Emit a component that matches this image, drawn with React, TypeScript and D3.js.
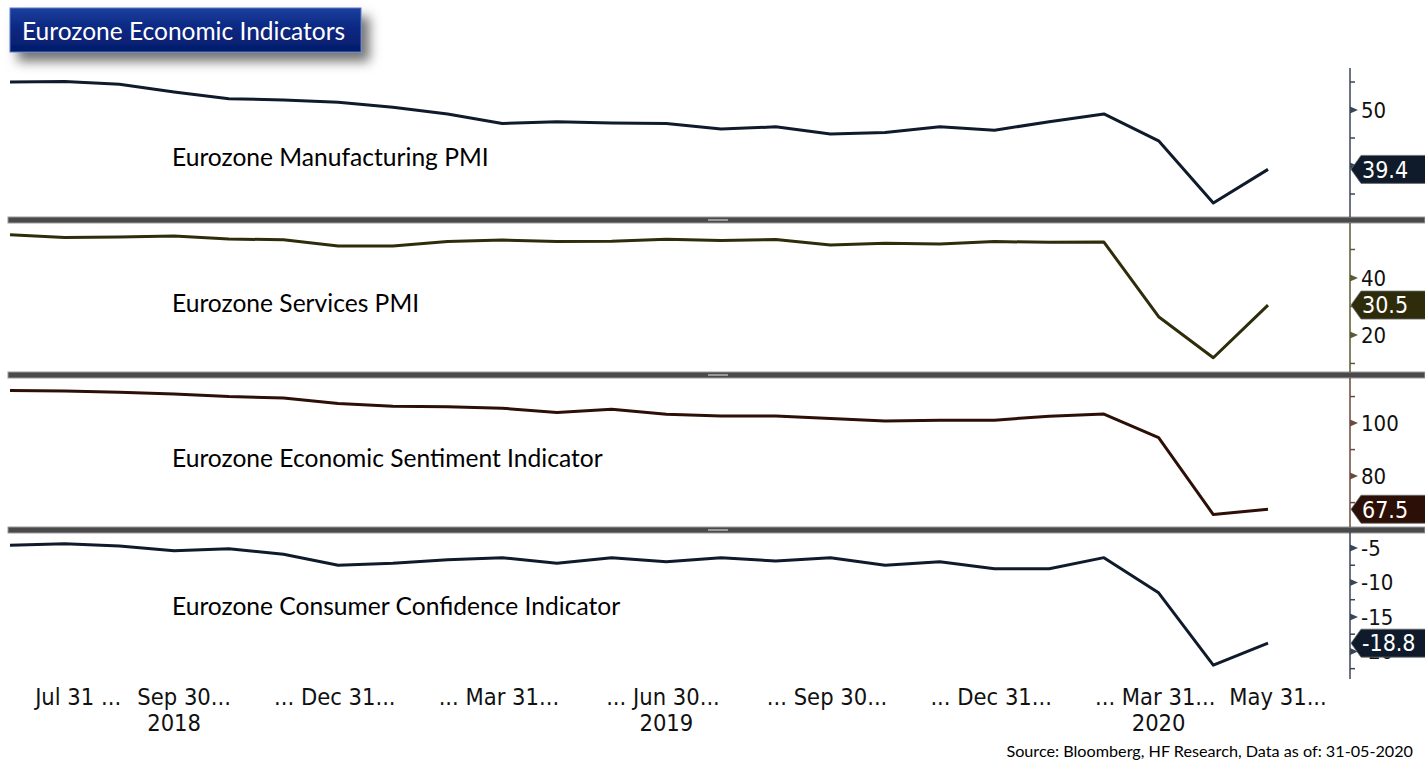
import React, { useEffect, useRef } from "react";
import * as d3 from "d3";

const months = [
  "2018-06", "2018-07", "2018-08", "2018-09", "2018-10", "2018-11", "2018-12",
  "2019-01", "2019-02", "2019-03", "2019-04", "2019-05", "2019-06", "2019-07",
  "2019-08", "2019-09", "2019-10", "2019-11", "2019-12", "2020-01", "2020-02",
  "2020-03", "2020-04", "2020-05",
];

const manufacturingPMI = [
  55.0, 55.1, 54.6, 53.2, 52.0, 51.8, 51.4, 50.5, 49.3, 47.6, 47.9, 47.7,
  47.6, 46.6, 47.0, 45.7, 46.0, 47.0, 46.4, 47.9, 49.3, 44.5, 33.4, 39.4,
];

const servicesPMI = [
  55.2, 54.2, 54.4, 54.7, 53.7, 53.4, 51.2, 51.2, 52.8, 53.3, 52.8, 52.9,
  53.6, 53.2, 53.5, 51.6, 52.2, 51.9, 52.8, 52.5, 52.6, 26.4, 12.0, 30.5,
];

const sentimentESI = [
  112.3, 112.1, 111.6, 111.0, 110.0, 109.5, 107.4, 106.3, 106.2, 105.6, 104.0, 105.2,
  103.3, 102.7, 102.7, 101.7, 100.8, 101.1, 101.1, 102.6, 103.4, 94.5, 65.5, 67.5,
];

const consumerConfidence = [
  -4.6, -4.4, -4.7, -5.4, -5.1, -5.9, -7.5, -7.2, -6.7, -6.4, -7.2, -6.4,
  -7.0, -6.4, -6.9, -6.4, -7.5, -7.0, -8.0, -8.0, -6.4, -11.5, -22.0, -18.8,
];

const panelNames = [
  "Eurozone Manufacturing PMI",
  "Eurozone Services PMI",
  "Eurozone Economic Sentiment Indicator",
  "Eurozone Consumer Confidence Indicator",
];

const lastValueLabels = ["39.4", "30.5", "67.5", "-18.8"];

const xTickLabels = [
  { month: "2018-07", pre: "", date: "Jul 31", post: " ..." },
  { month: "2018-09", pre: "", date: "Sep 30", post: "..." },
  { month: "2018-12", pre: "... ", date: "Dec 31", post: "..." },
  { month: "2019-03", pre: "... ", date: "Mar 31", post: "..." },
  { month: "2019-06", pre: "... ", date: "Jun 30", post: "..." },
  { month: "2019-09", pre: "... ", date: "Sep 30", post: "..." },
  { month: "2019-12", pre: "... ", date: "Dec 31", post: "..." },
  { month: "2020-03", pre: "... ", date: "Mar 31", post: "..." },
  { month: "2020-05", pre: " ", date: "May 31", post: "..." },
];

const yearLabels = [
  { month: "2018-09", year: "2018" },
  { month: "2019-06", year: "2019" },
  { month: "2020-03", year: "2020" },
];

const titleText = "Eurozone Economic Indicators";
const sourceText = "Source: Bloomberg, HF Research, Data as of: 31-05-2020";

const W = 1425;
const H = 775;
const AXIS_X = 1350;
const TICK_FONT = "'DejaVu Sans Condensed', 'DejaVu Sans', Tahoma, sans-serif";
const LABEL_FONT = "Lato, 'Open Sans', Calibri, sans-serif";

const panels = [
  { data: manufacturingPMI, top: 68, bottom: 217, domain: [30.9, 57.5], major: 10, minor: 5, color: "#0f1b2b", axisColor: "#3a4656", labelY: 157 },
  { data: servicesPMI, top: 223, bottom: 372, domain: [7.0, 59.3], major: 20, minor: 10, color: "#2e2c0b", axisColor: "#5c5a35", labelY: 303 },
  { data: sentimentESI, top: 378, bottom: 527, domain: [60.8, 117], major: 20, minor: 10, color: "#2c0f06", axisColor: "#6a4a40", labelY: 458 },
  { data: consumerConfidence, top: 532, bottom: 679, domain: [-24.0, -2.68], major: 5, minor: 2.5, color: "#0f1b2b", axisColor: "#3a4656", labelY: 606 },
];

export default function App() {
  const ref = useRef<SVGSVGElement | null>(null);

  useEffect(() => {
    const svg = d3.select(ref.current);
    svg.selectAll("*").remove();

    const defs = svg.append("defs");
    const grad = defs.append("linearGradient").attr("id", "titleGrad").attr("x1", 0).attr("y1", 0).attr("x2", 0).attr("y2", 1);
    grad.append("stop").attr("offset", "0%").attr("stop-color", "#1d3f9e");
    grad.append("stop").attr("offset", "45%").attr("stop-color", "#0a2882");
    grad.append("stop").attr("offset", "100%").attr("stop-color", "#051c6a");
    const filt = defs.append("filter").attr("id", "shadow").attr("x", "-10%").attr("y", "-30%").attr("width", "130%").attr("height", "190%");
    filt.append("feDropShadow").attr("dx", 8).attr("dy", 9).attr("stdDeviation", 6).attr("flood-color", "#000").attr("flood-opacity", 0.55);

    svg.append("rect").attr("width", W).attr("height", H).attr("fill", "#ffffff");

    const x = d3.scalePoint<string>().domain(months).range([10, 1268]).padding(0);

    // separators
    const seps = [217, 372, 527];
    seps.forEach((sy) => {
      svg.append("rect").attr("x", 8).attr("y", sy).attr("width", W - 8).attr("height", 6)
        .attr("fill", "#4a4a4a").attr("stroke", "#9a9a9a").attr("stroke-width", 1);
      svg.append("rect").attr("x", 708).attr("y", sy + 2).attr("width", 20).attr("height", 2).attr("fill", "#9a9a9a");
    });

    panels.forEach((p, pi) => {
      const y = d3.scaleLinear().domain(p.domain).range([p.bottom, p.top]);
      const g = svg.append("g");
      const last = p.data[p.data.length - 1];
      const ly = y(last);
      // axis line
      g.append("line").attr("x1", AXIS_X).attr("x2", AXIS_X).attr("y1", p.top).attr("y2", p.bottom)
        .attr("stroke", p.axisColor).attr("stroke-width", 1.5);
      const d0 = p.domain[0], d1 = p.domain[1];
      const majors: number[] = [];
      for (let v = Math.ceil(d0 / p.major) * p.major; v <= d1 + 1e-9; v += p.major) majors.push(Math.round(v * 100) / 100);
      const minors: number[] = [];
      for (let v = Math.ceil(d0 / p.minor) * p.minor; v <= d1 + 1e-9; v += p.minor) {
        const r = Math.round(v * 100) / 100;
        if (!majors.some((m) => Math.abs(m - r) < 1e-6)) minors.push(r);
      }
      minors.forEach((v) => {
        g.append("line").attr("x1", AXIS_X).attr("x2", AXIS_X + 5).attr("y1", y(v)).attr("y2", y(v))
          .attr("stroke", p.axisColor).attr("stroke-width", 1.5);
      });
      majors.forEach((v) => {
        const yy = y(v);
        g.append("path").attr("d", `M${AXIS_X},${yy - 3.5}L${AXIS_X + 8},${yy}L${AXIS_X},${yy + 3.5}Z`).attr("fill", p.axisColor);
        // labels fully hidden behind the last-value tag are not drawn
        if (Math.abs(yy - ly) < 6) return;
        g.append("text").attr("x", AXIS_X + 11).attr("y", yy).attr("dy", "0.36em")
          .attr("font-family", TICK_FONT).attr("font-size", 22).attr("fill", "#111").text(String(v));
      });

      // line
      const line = d3.line<number>().x((_, i) => x(months[i]) as number).y((d) => y(d));
      g.append("path").datum(p.data).attr("d", line).attr("fill", "none").attr("stroke", p.color)
        .attr("stroke-width", 3).attr("stroke-linejoin", "round");

      // panel name
      g.append("text").attr("x", 172).attr("y", p.labelY).attr("dy", "0.35em")
        .attr("font-family", LABEL_FONT).attr("font-size", 24.6).attr("fill", "#000").text(panelNames[pi]);

      // last value label
      g.append("path").attr("d", `M${AXIS_X + 1},${ly}L${AXIS_X + 11},${ly - 14}L${W + 2},${ly - 14}L${W + 2},${ly + 14}L${AXIS_X + 11},${ly + 14}Z`)
        .attr("fill", p.color).attr("stroke", "#6b6b6b").attr("stroke-width", 0.8);
      g.append("text").attr("x", AXIS_X + 12).attr("y", ly).attr("dy", "0.36em")
        .attr("font-family", TICK_FONT).attr("font-size", 23).attr("fill", "#ffffff").text(lastValueLabels[pi]);
    });

    // x axis labels
    const xl = svg.append("g").attr("font-family", TICK_FONT).attr("font-size", 23.5).attr("fill", "#111");
    xTickLabels.forEach((t) => {
      const cx = x(t.month) as number;
      const dt = xl.append("text").attr("x", cx).attr("y", 705).attr("text-anchor", "middle").text(t.date);
      const w = (dt.node() as SVGTextElement).getComputedTextLength();
      if (t.pre) xl.append("text").attr("x", cx - w / 2).attr("y", 705).attr("text-anchor", "end").style("white-space", "pre").text(t.pre);
      if (t.post) xl.append("text").attr("x", cx + w / 2).attr("y", 705).attr("text-anchor", "start").style("white-space", "pre").text(t.post);
    });
    yearLabels.forEach((t) => {
      xl.append("text").attr("x", x(t.month) as number).attr("y", 731).attr("text-anchor", "middle").text(t.year);
    });

    // source
    svg.append("text").attr("x", 1413).attr("y", 757).attr("text-anchor", "end")
      .attr("font-family", LABEL_FONT).attr("font-size", 16.2).attr("fill", "#000").text(sourceText);

    // title box
    svg.append("rect").attr("x", 10).attr("y", 8).attr("width", 351).attr("height", 44)
      .attr("fill", "url(#titleGrad)").attr("stroke", "#5a78c8").attr("stroke-width", 1).attr("filter", "url(#shadow)");
    svg.append("text").attr("x", 22).attr("y", 31).attr("dy", "0.35em")
      .attr("font-family", LABEL_FONT).attr("font-size", 24.5).attr("fill", "#ffffff").text(titleText);
  }, []);

  return (
    <svg ref={ref} width={W} height={H} style={{ position: "absolute", left: 0, top: 0, display: "block" }} />
  );
}
